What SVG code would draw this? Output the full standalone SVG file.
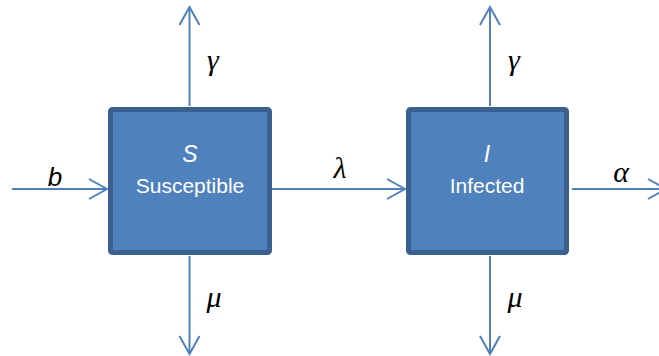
<svg xmlns="http://www.w3.org/2000/svg" width="659" height="356" viewBox="0 0 659 356">
<style>
.box{fill:#4F81BD;stroke:#3B5F8E;stroke-width:5}
.ln{stroke:#4F81BD;stroke-width:2;fill:none;marker-end:url(#ah)}
.t1{font-family:"Liberation Sans",Arial,sans-serif;font-size:23px;fill:#fff;text-anchor:middle;font-style:italic}
.t2{font-family:"Liberation Sans",Arial,sans-serif;font-size:21px;fill:#fff;text-anchor:middle}
.m{font-family:"Liberation Serif","DejaVu Serif",serif;font-style:italic;font-size:30px;fill:#000;text-anchor:middle}
</style>
<defs>
<marker id="ah" markerUnits="userSpaceOnUse" markerWidth="24" markerHeight="24" refX="20" refY="11" orient="auto" viewBox="0 0 24 24">
<path d="M2,1 L20,11 L2,21" fill="none" stroke="#4F81BD" stroke-width="2"/>
</marker>
</defs>
<g id="connectors">
<line class="ln" x1="12" y1="189" x2="107" y2="189"/>
<line class="ln" x1="272" y1="189" x2="405" y2="189"/>
<line class="ln" x1="572" y1="189" x2="666" y2="189"/>
<line class="ln" x1="189.5" y1="106" x2="189.5" y2="7"/>
<line class="ln" x1="189.5" y1="256" x2="189.5" y2="354"/>
<line class="ln" x1="490" y1="106" x2="490" y2="7"/>
<line class="ln" x1="490" y1="256" x2="490" y2="354"/>
<text class="m" x="55" y="186" style="font-family:'Liberation Sans',Arial,sans-serif;font-size:26px">b</text>
<text class="m" x="340" y="178">λ</text>
<text class="m" x="621" y="182">α</text>
<text class="m" x="213" y="70">γ</text>
<text class="m" x="514" y="70">γ</text>
<text class="m" x="214" y="307">μ</text>
<text class="m" x="515" y="307">μ</text>
</g>
<g id="S">
<rect class="box" x="110.5" y="109.5" width="159" height="143" rx="2"/>
<text class="t1" x="190" y="162">S</text>
<text class="t2" x="190" y="193">Susceptible</text>
</g>
<g id="I">
<rect class="box" x="408.5" y="109.5" width="158" height="143" rx="2"/>
<text class="t1" x="487" y="162">I</text>
<text class="t2" x="487" y="193">Infected</text>
</g>
</svg>
